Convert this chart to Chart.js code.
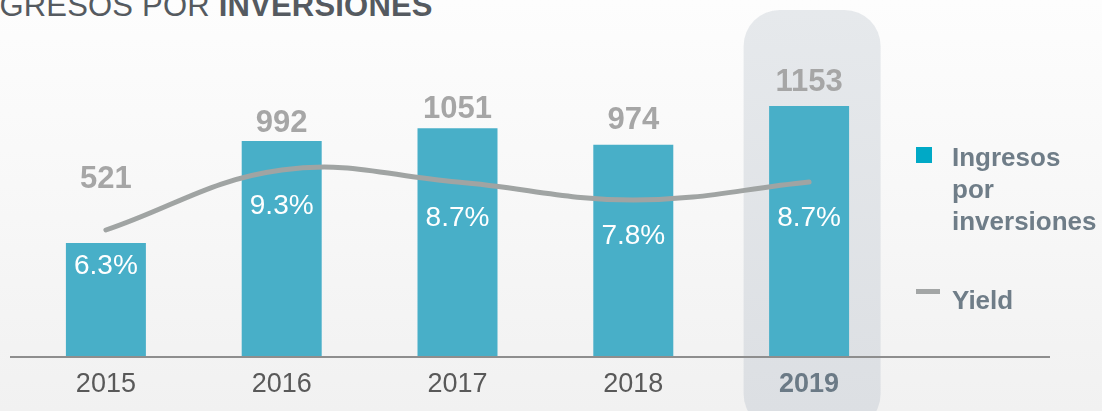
<!DOCTYPE html>
<html>
<head>
<meta charset="utf-8">
<script src="https://cdn.jsdelivr.net/npm/chart.js@4"></script>
<style>
  html, body { margin: 0; padding: 0; }
  body {
    width: 1102px; height: 411px; overflow: hidden; position: relative;
    background: linear-gradient(to bottom, #fdfdfd 0%, #f8f8f8 45%, #f1f1f1 100%);
    font-family: "Liberation Sans", Arial, sans-serif;
  }
  #titulo {
    position: absolute; left: -32px; top: -12px; white-space: nowrap;
    font-size: 31px; color: #555a60; letter-spacing: 0.2px;
  }
  #titulo b { font-weight: bold; }
  #wrap { position: absolute; left: 0; top: 0; width: 1102px; height: 411px; }
  .leyenda { position: absolute; color: #6f7d88; font-weight: bold; font-size: 26px; line-height: 32px; }
  .marca { position: absolute; }
</style>
</head>
<body>
<div id="titulo">INGRESOS POR <b>INVERSIONES</b></div>
<div id="wrap"><canvas id="grafica"></canvas></div>
<div class="marca" style="left:916px;top:147px;width:16px;height:16px;background:#00a9c6;"></div>
<div class="leyenda" style="left:952px;top:141px;">Ingresos<br>por<br>inversiones</div>
<div class="marca" style="left:916px;top:289px;width:24px;height:5px;background:#a3a6a6;"></div>
<div class="leyenda" style="left:952px;top:284px;">Yield</div>
<script>
// Datos del gráfico
const anios = ['2015', '2016', '2017', '2018', '2019'];
const ingresos = [521, 992, 1051, 974, 1153];
const yieldPct = [6.3, 9.3, 8.7, 7.8, 8.7];
const anioDestacado = '2019';

// cuanto sube la etiqueta de valor sobre la barra (la de 2015 queda encima de la linea)
const elevarEtiqueta = [64, 18, 19, 24, 24];

// Fondo redondeado detras del año destacado
const resaltar = {
  id: 'resaltar',
  beforeDatasetsDraw(chart) {
    const ctx = chart.ctx;
    const x = chart.scales.x.getPixelForValue(anios.indexOf(anioDestacado)) + 3;
    const w = 137, r = 36, top = 10, bottom = 430;
    const g = ctx.createLinearGradient(0, top, 0, 411);
    g.addColorStop(0, '#e6e9ec');
    g.addColorStop(1, '#dcdfe3');
    ctx.save();
    ctx.fillStyle = g;
    ctx.beginPath();
    ctx.roundRect(x - w / 2, top, w, bottom - top, r);
    ctx.fill();
    ctx.restore();
  }
};

// Linea base, años y etiquetas
const etiquetas = {
  id: 'etiquetas',
  afterDatasetsDraw(chart) {
    const ctx = chart.ctx;
    const area = chart.chartArea;
    const barras = chart.getDatasetMeta(0).data;
    const puntos = chart.getDatasetMeta(1).data;
    ctx.save();
    // eje x
    ctx.strokeStyle = '#8e8e8e';
    ctx.lineWidth = 2;
    ctx.beginPath();
    ctx.moveTo(10, area.bottom + 1);
    ctx.lineTo(1050, area.bottom + 1);
    ctx.stroke();

    ctx.textAlign = 'center';
    ctx.textBaseline = 'middle';
    anios.forEach((a, i) => {
      const x = barras[i].x;
      if (a === anioDestacado) {
        ctx.font = 'bold 27px "Liberation Sans", Arial, sans-serif';
        ctx.fillStyle = '#6b7a86';
      } else {
        ctx.font = '27px "Liberation Sans", Arial, sans-serif';
        ctx.fillStyle = '#595959';
      }
      ctx.fillText(a, x, area.bottom + 29);

      // valor de ingresos
      ctx.font = 'bold 31px "Liberation Sans", Arial, sans-serif';
      ctx.fillStyle = '#a6a6a6';
      ctx.fillText(String(ingresos[i]), x, barras[i].y - elevarEtiqueta[i]);

      // yield dentro de la barra
      ctx.font = '28px "Liberation Sans", Arial, sans-serif';
      ctx.fillStyle = '#ffffff';
      ctx.fillText(yieldPct[i].toFixed(1) + '%', x, puntos[i].y + 36);
    });
    ctx.restore();
  }
};

new Chart(document.getElementById('grafica'), {
  data: {
    labels: anios,
    datasets: [
      {
        type: 'bar',
        label: 'Ingresos por inversiones',
        data: ingresos,
        backgroundColor: '#48afc8',
        categoryPercentage: 1,
        barPercentage: 0.455,
        yAxisID: 'y',
        order: 1
      },
      {
        type: 'line',
        label: 'Yield',
        data: yieldPct,
        borderColor: '#a0a4a3',
        borderWidth: 5,
        borderCapStyle: 'round',
        tension: 0.4,
        pointRadius: 0,
        yAxisID: 'y2',
        order: 0
      }
    ]
  },
  options: {
    responsive: true,
    maintainAspectRatio: false,
    animation: false,
    layout: { padding: { left: 18, right: 205, top: 56, bottom: 55 } },
    plugins: { legend: { display: false }, tooltip: { enabled: false } },
    scales: {
      x: { display: false },
      y: { display: false, min: 0, max: 1384 },
      y2: { display: false, min: 0, max: 15 }
    }
  },
  plugins: [resaltar, etiquetas]
});
</script>
</body>
</html>
